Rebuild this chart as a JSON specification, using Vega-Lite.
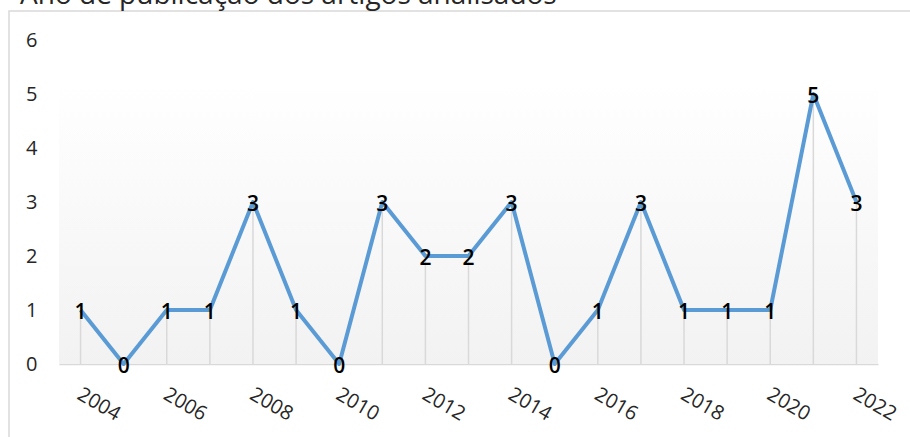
{
  "$schema": "https://vega.github.io/schema/vega-lite/v6.json",
  "autosize": {"type": "none"},
  "width": 819,
  "height": 324,
  "padding": {"left": 59, "top": 40, "right": 32, "bottom": 73},
  "background": "white",
  "title": {
    "text": "Ano de publicação dos artigos analisados",
    "anchor": "start",
    "frame": "group",
    "dx": -39,
    "offset": 0,
    "font": "Open Sans",
    "fontSize": 28,
    "fontWeight": "normal",
    "color": "#262626"
  },
  "config": {
    "view": {"stroke": null},
    "font": "Open Sans",
    "axis": {"labelFont": "Open Sans", "labelColor": "#262626", "labelFontSize": 20, "grid": false, "ticks": false, "title": null}
  },
  "data": {
    "values": [
      {"year": 2004, "count": 1},
      {"year": 2005, "count": 0},
      {"year": 2006, "count": 1},
      {"year": 2007, "count": 1},
      {"year": 2008, "count": 3},
      {"year": 2009, "count": 1},
      {"year": 2010, "count": 0},
      {"year": 2011, "count": 3},
      {"year": 2012, "count": 2},
      {"year": 2013, "count": 2},
      {"year": 2014, "count": 3},
      {"year": 2015, "count": 0},
      {"year": 2016, "count": 1},
      {"year": 2017, "count": 3},
      {"year": 2018, "count": 1},
      {"year": 2019, "count": 1},
      {"year": 2020, "count": 1},
      {"year": 2021, "count": 5},
      {"year": 2022, "count": 3}
    ]
  },
  "layer": [
    {
      "data": {"values": [{"x0": 2002.34, "x1": 2024.5, "y0": 6.537, "y1": -2}]},
      "mark": {"type": "rect", "filled": false, "stroke": "#D9D9D9", "strokeWidth": 1.5, "clip": false},
      "encoding": {
        "x": {"field": "x0", "type": "quantitative", "scale": {"domain": [2003.5, 2022.5], "nice": false, "zero": false}},
        "x2": {"field": "x1"},
        "y": {"field": "y0", "type": "quantitative", "scale": {"domain": [0, 6], "nice": false}},
        "y2": {"field": "y1"}
      }
    },
    {
      "data": {"values": [{"x0": 2003.5, "x1": 2022.5, "y0": 5.22, "y1": 0}]},
      "mark": {
        "type": "rect",
        "fill": {
          "gradient": "linear",
          "x1": 0, "y1": 0, "x2": 0, "y2": 1,
          "stops": [
            {"offset": 0, "color": "#FFFFFF"},
            {"offset": 1, "color": "#F2F2F2"}
          ]
        }
      },
      "encoding": {
        "x": {"field": "x0", "type": "quantitative"},
        "x2": {"field": "x1"},
        "y": {"field": "y0", "type": "quantitative"},
        "y2": {"field": "y1"}
      }
    },
    {
      "mark": {"type": "rule", "color": "#D9D9D9", "strokeWidth": 1.5},
      "encoding": {
        "x": {"field": "year", "type": "quantitative"},
        "y": {"field": "count", "type": "quantitative"},
        "y2": {"datum": 0}
      }
    },
    {
      "mark": {"type": "line", "color": "#5B9BD5", "strokeWidth": 4, "strokeJoin": "round"},
      "encoding": {
        "x": {
          "field": "year",
          "type": "quantitative",
          "axis": {
            "values": [2004, 2006, 2008, 2010, 2012, 2014, 2016, 2018, 2020, 2022],
            "format": "d",
            "labelAngle": 30,
            "labelAlign": "left",
            "labelBaseline": "top",
            "labelPadding": 20,
            "labelOffset": 3,
            "labelFlush": false,
            "labelOverlap": false,
            "domain": true,
            "domainColor": "#D9D9D9",
            "domainWidth": 1.5
          }
        },
        "y": {
          "field": "count",
          "type": "quantitative",
          "axis": {
            "values": [0, 1, 2, 3, 4, 5, 6],
            "format": "d",
            "domain": false,
            "labelPadding": 22
          }
        }
      }
    },
    {
      "mark": {"type": "text", "color": "#000000", "fontSize": 21, "fontWeight": 600, "font": "Open Sans", "baseline": "middle", "dy": 3},
      "encoding": {
        "x": {"field": "year", "type": "quantitative"},
        "y": {"field": "count", "type": "quantitative"},
        "text": {"field": "count", "type": "quantitative"}
      }
    }
  ]
}
